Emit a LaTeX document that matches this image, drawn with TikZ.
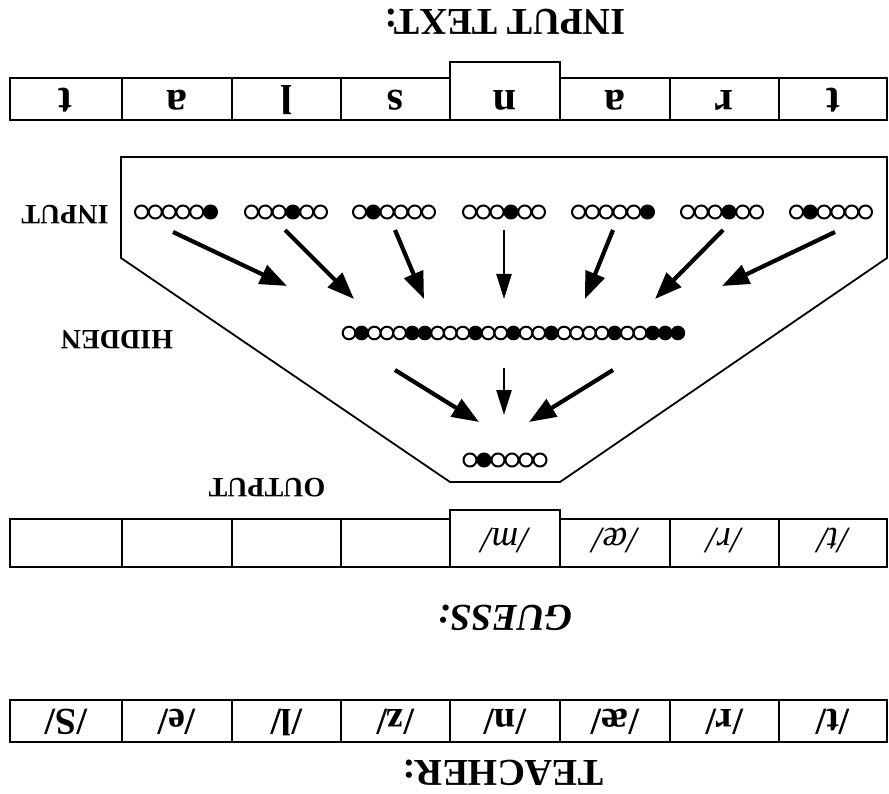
\documentclass[tikz,border=0pt]{standalone}
\usepackage{fontspec}
\setmainfont{Liberation Serif}
\usetikzlibrary{arrows.meta}
\begin{document}
\begin{tikzpicture}[x=1pt,y=-1pt,
  frame/.style={draw,line width=1.8pt,line join=miter},
  title/.style={font=\fontsize{38}{40}\selectfont\bfseries, rotate=180, inner sep=0pt},
  lbl/.style={font=\fontsize{28}{30}\selectfont\bfseries, rotate=180, inner sep=0pt},
  letter/.style={font=\fontsize{42}{44}\selectfont\bfseries, rotate=180, inner sep=0pt},
  guessph/.style={font=\fontsize{37}{39}\selectfont\itshape, rotate=180, inner sep=0pt},
  teachph/.style={font=\fontsize{38}{40}\selectfont\bfseries, rotate=180, inner sep=0pt},
  unit/.style={draw,line width=2pt,fill=white},
  unitOn/.style={draw,line width=2pt,fill=black},
  thick arrow/.style={line width=4.2pt,-{Triangle[length=27pt,width=20pt]}},
  thin arrow/.style={line width=2.4pt,-{Triangle[length=25pt,width=15pt]}}
]
\useasboundingbox (0,0) rectangle (889,794);

% ---------- titles ----------
\node[title] (tinput) at (505,22) {INPUT TEXT:};
\node[title,font=\fontsize{38}{40}\selectfont\bfseries\itshape] (tguess) at (505,618) {GUESS:};
\node[title] (tteach) at (503,773) {TEACHER:};

% ---------- input text row ----------
\draw[frame] (10,78) -- (450,78) -- (450,62) -- (560,62) -- (560,78) -- (887,78) -- (887,120) -- (10,120) -- cycle;
\foreach \x in {122,232,341,450,560,670,779} \draw[frame] (\x,78) -- (\x,120);
\foreach \t [count=\i] in {t,a,l,s,n,a,r,t}{
  \pgfmathsetmacro{\cx}{{10,122,232,341,450,560,670,779,887}[\i-1]/2+{10,122,232,341,450,560,670,779,887}[\i]/2}
  \node[letter] (in\i) at (\cx,100) {\t};
}

% ---------- guess row ----------
\draw[frame] (10,519) -- (450,519) -- (450,510) -- (560,510) -- (560,519) -- (887,519) -- (887,567) -- (10,567) -- cycle;
\foreach \x in {122,232,341,450,560,670,779} \draw[frame] (\x,519) -- (\x,567);
\node[guessph] (g5) at (505,541) {/m/};
\node[guessph] (g6) at (615,541) {/æ/};
\node[guessph] (g7) at (724,541) {/r/};
\node[guessph] (g8) at (833,541) {/t/};

% ---------- teacher row ----------
\draw[frame] (10,700) rectangle (887,742);
\foreach \x in {122,232,341,450,560,670,779} \draw[frame] (\x,700) -- (\x,742);
\foreach \t [count=\i] in {S,e,l,z,n,æ,r,t}{
  \pgfmathsetmacro{\cx}{{10,122,232,341,450,560,670,779,887}[\i-1]/2+{10,122,232,341,450,560,670,779,887}[\i]/2}
  \node[teachph] (te\i) at (\cx,722) {/\t/};
}

% ---------- network outline ----------
\draw[frame] (121,157) -- (887,157) -- (887,258) -- (560,482) -- (450,482) -- (121,258) -- cycle;
\node[lbl] (linput) at (65,215) {INPUT};
\node[lbl] (lhidden) at (117,340) {HIDDEN};
\node[lbl] (loutput) at (267,488) {OUTPUT};

% ---------- input units ----------
\foreach \gc/\on [count=\g] in {176/6,286/4,394/2,504/4,613/6,722/4,831/2}{
  \foreach \k in {1,...,6}{
    \ifnum\k=\on
      \draw[unitOn] ({\gc+(\k-3.5)*13.8},212) circle (6.5);
    \else
      \draw[unit] ({\gc+(\k-3.5)*13.8},212) circle (6.5);
    \fi
  }
}

% ---------- hidden units ----------
\foreach \s [count=\k] in {0,1,0,0,0,1,1,0,0,0,1,0,0,1,0,0,1,0,0,0,0,1,0,0,1,1,1}{
  \ifnum\s=1
    \draw[unitOn] ({349+(\k-1)*12.65},333) circle (6.3);
  \else
    \draw[unit] ({349+(\k-1)*12.65},333) circle (6.3);
  \fi
}

% ---------- output units ----------
\foreach \k in {1,...,6}{
  \ifnum\k=2
    \draw[unitOn] ({470+(\k-1)*14},460) circle (6.5);
  \else
    \draw[unit] ({470+(\k-1)*14},460) circle (6.5);
  \fi
}

% ---------- arrows ----------
\coordinate (a1s) at (173,232); \coordinate (a1e) at (287,286);
\coordinate (a2s) at (285,230); \coordinate (a2e) at (354,299);
\coordinate (a3s) at (395,230); \coordinate (a3e) at (424,299);
\coordinate (a4s) at (504,230); \coordinate (a4e) at (504,299);
\coordinate (a5s) at (613,230); \coordinate (a5e) at (585,299);
\coordinate (a6s) at (723,230); \coordinate (a6e) at (655,299);
\coordinate (a7s) at (835,232); \coordinate (a7e) at (722,286);
\draw[thick arrow] (a1s) -- (a1e);
\draw[thick arrow] (a2s) -- (a2e);
\draw[thick arrow] (a3s) -- (a3e);
\draw[thin arrow] (a4s) -- (a4e);
\draw[thick arrow] (a5s) -- (a5e);
\draw[thick arrow] (a6s) -- (a6e);
\draw[thick arrow] (a7s) -- (a7e);

\coordinate (b1s) at (395,370); \coordinate (b1e) at (479,422);
\coordinate (b2s) at (504,368); \coordinate (b2e) at (504,415);
\coordinate (b3s) at (613,370); \coordinate (b3e) at (529,422);
\draw[thick arrow] (b1s) -- (b1e);
\draw[thin arrow] (b2s) -- (b2e);
\draw[thick arrow] (b3s) -- (b3e);
\end{tikzpicture}
\end{document}
